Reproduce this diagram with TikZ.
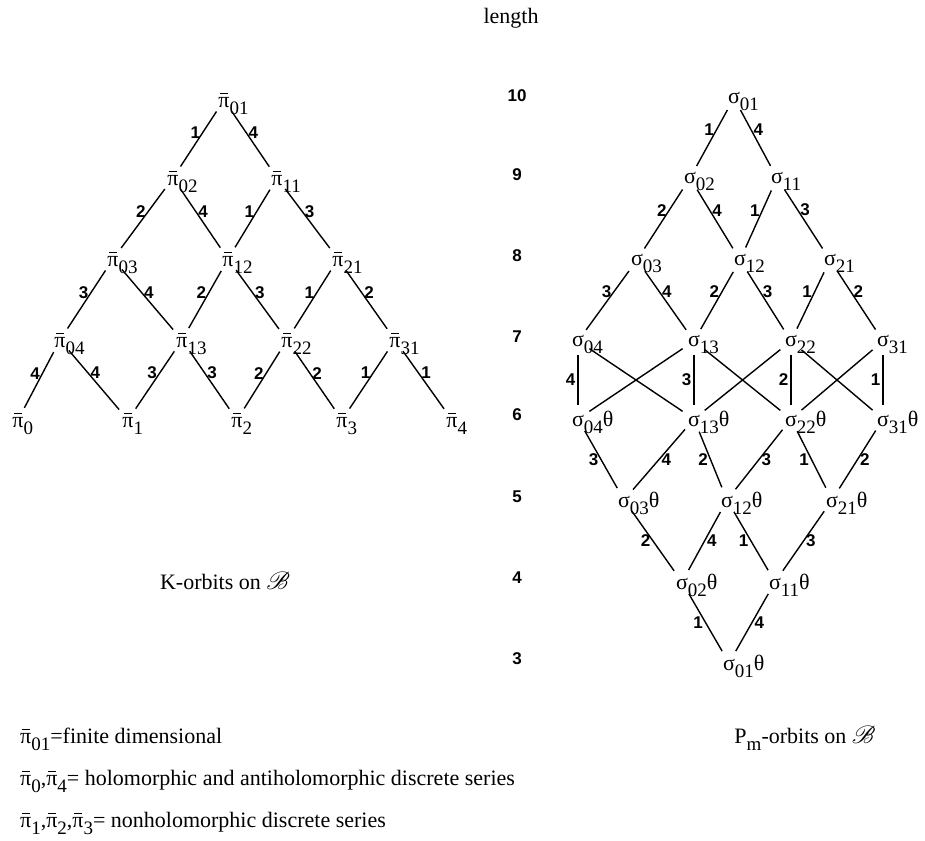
\documentclass[tikz,border=0pt]{standalone}
\usepackage{fontspec}
\setmainfont{Liberation Serif}
\newfontfamily\numfont{Liberation Sans}
\usepackage{mathrsfs}

\newcommand{\idx}[1]{\raisebox{-0.32em}{\fontsize{19}{22}\selectfont #1}}
\newcommand{\lowidx}[1]{\rlap{\smash{\idx{#1}}}}
\newcommand{\barpi}{\rlap{\hspace{0.07em}\raisebox{0.6em}{\rule{0.36em}{0.055em}}}π}
\newcommand{\pib}[1]{\barpi\lowidx{#1}}
\newcommand{\sig}[1]{σ\lowidx{#1}}
\newcommand{\sigth}[1]{σ\rlap{\smash{\idx{#1}}θ}}
\newcommand{\pbar}[1]{\barpi\idx{#1}}
\newcommand{\flag}{{\fontsize{27}{30}\selectfont$\mathscr{B}$}}

\begin{document}
\begin{tikzpicture}[x=1pt,y=-1pt,
	orb/.style={circle,inner sep=0pt,minimum size=27pt,font=\fontsize{22}{26}\selectfont},
	num/.style={font=\numfont\bfseries\fontsize{17}{17}\selectfont,inner sep=2pt},
	txt/.style={font=\fontsize{22}{26}\selectfont,inner sep=0pt},
	edge/.style={line width=1.4pt}]
	\useasboundingbox (0,0) rectangle (925,840);

	% K-orbits
	\node[orb] (p01) at (224,100) {\pib{01}};
	\node[orb] (p02) at (173,178) {\pib{02}};
	\node[orb] (p11) at (277,178) {\pib{11}};
	\node[orb] (p03) at (113,259) {\pib{03}};
	\node[orb] (p12) at (228,259) {\pib{12}};
	\node[orb] (p21) at (338,259) {\pib{21}};
	\node[orb] (p04) at (60,340) {\pib{04}};
	\node[orb] (p13) at (182,340) {\pib{13}};
	\node[orb] (p22) at (287,340) {\pib{22}};
	\node[orb] (p31) at (395,340) {\pib{31}};
	\node[orb] (p0) at (18,420) {\pib{0}};
	\node[orb] (p1) at (128,420) {\pib{1}};
	\node[orb] (p2) at (237,420) {\pib{2}};
	\node[orb] (p3) at (342,420) {\pib{3}};
	\node[orb] (p4) at (452,420) {\pib{4}};
	\foreach \a/\b/\n/\s in {p01/p02/1/left, p01/p11/4/right, p02/p03/2/left, p02/p12/4/right,
		p11/p12/1/left, p11/p21/3/right, p03/p04/3/left, p03/p13/4/right, p12/p13/2/left,
		p12/p22/3/right, p21/p22/1/left, p21/p31/2/right, p04/p0/4/left, p04/p1/4/right,
		p13/p1/3/left, p13/p2/3/right, p22/p2/2/left, p22/p3/2/right, p31/p3/1/left, p31/p4/1/right}
		\draw[edge] (\a) -- node[num,\s,pos=.38] {\n} (\b);

	% lengths
	\node[txt] (lenttl) at (511,18) {length};
	\foreach \l/\y in {10/96, 9/175, 8/256, 7/337, 6/415, 5/497, 4/578, 3/659}
		\node[num] (len\l) at (517,\y) {\l};

	% P_m-orbits
	\node[orb] (s01) at (734,98) {\sig{01}};
	\node[orb] (s02) at (690,178) {\sig{02}};
	\node[orb] (s11) at (777,178) {\sig{11}};
	\node[orb] (s03) at (637,260) {\sig{03}};
	\node[orb] (s12) at (740,260) {\sig{12}};
	\node[orb] (s21) at (830,260) {\sig{21}};
	\node[orb] (s04) at (578,341) {\sig{04}};
	\node[orb] (s13) at (694,341) {\sig{13}};
	\node[orb] (s22) at (791,341) {\sig{22}};
	\node[orb] (s31) at (883,341) {\sig{31}};
	\node[orb] (t04) at (578,419) {\sigth{04}};
	\node[orb] (t13) at (694,419) {\sigth{13}};
	\node[orb] (t22) at (791,419) {\sigth{22}};
	\node[orb] (t31) at (883,419) {\sigth{31}};
	\node[orb] (t03) at (624,500) {\sigth{03}};
	\node[orb] (t12) at (727,500) {\sigth{12}};
	\node[orb] (t21) at (832,500) {\sigth{21}};
	\node[orb] (t02) at (682,582) {\sigth{02}};
	\node[orb] (t11) at (775,582) {\sigth{11}};
	\node[orb] (t01) at (729,663) {\sigth{01}};
	\foreach \a/\b/\n/\s in {s01/s02/1/left, s01/s11/4/right, s02/s03/2/left, s02/s12/4/right,
		s11/s12/1/left, s11/s21/3/right, s03/s04/3/left, s03/s13/4/right, s12/s13/2/left,
		s12/s22/3/right, s21/s22/1/left, s21/s31/2/right}
		\draw[edge] (\a) -- node[num,\s,pos=.35] {\n} (\b);
	\foreach \a/\b/\n in {s04/t04/4, s13/t13/3, s22/t22/2, s31/t31/1}
		\draw[edge] (\a) -- node[num,left,pos=.5] {\n} (\b);
	\foreach \a/\b in {s04/t13, s13/t04, s13/t22, s22/t13, s22/t31, s31/t22}
		\draw[edge] (\a) -- (\b);
	\foreach \a/\b/\n/\s in {t04/t03/3/left, t13/t03/4/right, t13/t12/2/left, t22/t12/3/right,
		t22/t21/1/left, t31/t21/2/right, t03/t02/2/left, t12/t02/4/right, t12/t11/1/left,
		t21/t11/3/right, t02/t01/1/left, t11/t01/4/right}
		\draw[edge] (\a) -- node[num,\s,pos=.5] {\n} (\b);

	% captions
	\node[txt,anchor=base] (kcap) at (225,589) {K-orbits on \flag};
	\node[txt,anchor=base] (pcap) at (805,743) {P\idx{m}-orbits on \flag};
	\node[txt,anchor=base west] (leg1) at (20,743) {\pbar{01}=finite dimensional};
	\node[txt,anchor=base west] (leg2) at (20,785) {\pbar{0},\pbar{4}= holomorphic and antiholomorphic discrete series};
	\node[txt,anchor=base west] (leg3) at (20,827) {\pbar{1},\pbar{2},\pbar{3}= nonholomorphic discrete series};
\end{tikzpicture}
\end{document}
